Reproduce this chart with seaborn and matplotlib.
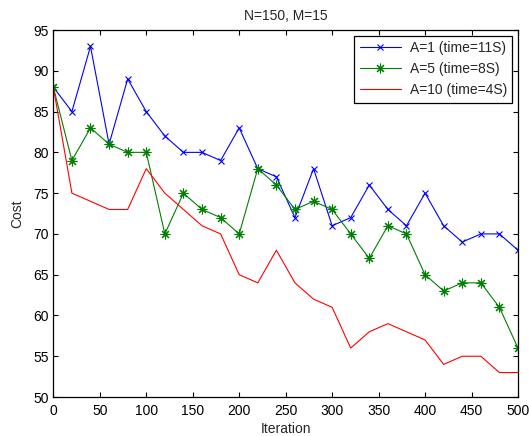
# Cost vs iteration for three values of A (MATLAB-like look)
import numpy as np
import pandas as pd
import matplotlib
matplotlib.use("Agg")
import matplotlib.pyplot as plt
import seaborn as sns

# ────────────────────────────────────────────────────────
# data
iterations = list(range(0, 501, 20))
cost_a1 = [88, 85, 93, 81, 89, 85, 82, 80, 80, 79, 83, 78, 77, 72, 78, 71,
           72, 76, 73, 71, 75, 71, 69, 70, 70, 68]
cost_a5 = [88, 79, 83, 81, 80, 80, 70, 75, 73, 72, 70, 78, 76, 73, 74, 73,
           70, 67, 71, 70, 65, 63, 64, 64, 61, 56]
cost_a10 = [88, 75, 74, 73, 73, 78, 75, 73, 71, 70, 65, 64, 68, 64, 62, 61,
            56, 58, 59, 58, 57, 54, 55, 55, 53, 53]
labels = ["A=1 (time=11S)", "A=5 (time=8S)", "A=10 (time=4S)"]

# ────────────────────────────────────────────────────────
sns.set_style("ticks")
plt.rcParams["font.family"] = ["Liberation Sans", "DejaVu Sans"]

fig = plt.figure(figsize=(5.29, 4.36), dpi=100)
ax = fig.add_axes([0.1008, 0.0894, 0.8784, 0.8417])

# MATLAB style '*' is a line-art asterisk (plus + cross)
series = [
    (cost_a1, labels[0], "#0000ff", "x", 4.5),
    (cost_a5, labels[1], "#008000", (8, 2, 0), 7),
    (cost_a10, labels[2], "#ff0000", None, 0),
]
for vals, lab, col, mk, ms in series:
    sns.lineplot(x=iterations, y=vals, color=col, marker=mk, markersize=ms,
                 markeredgewidth=0.8, markeredgecolor=col, linewidth=0.8,
                 label=lab, ax=ax)

ax.set_xlim(0, 500)
ax.set_ylim(50, 95)
ax.set_xticks(np.arange(0, 501, 50))
ax.set_yticks(np.arange(50, 96, 5))
ax.tick_params(axis="both", direction="in", top=True, right=True, length=3.5,
               width=0.8, labelsize=10, colors="black")
ax.tick_params(axis="x", pad=5)
ax.tick_params(axis="y", pad=3)
for sp in ax.spines.values():
    sp.set_visible(True)
    sp.set_linewidth(0.9)
    sp.set_color("black")

ax.set_title("N=150, M=15", fontsize=10, pad=7)
ax.set_xlabel("Iteration", fontsize=10, labelpad=3)
ax.set_ylabel("Cost", fontsize=10, labelpad=7)

leg = ax.legend(loc="upper right", fontsize=10, frameon=True, fancybox=False,
                edgecolor="black", framealpha=1, handlelength=3.0,
                borderaxespad=0.4, labelspacing=0.5, borderpad=0.4,
                handletextpad=0.6)
leg.get_frame().set_linewidth(0.9)

fig.savefig("out.png", dpi=100)
